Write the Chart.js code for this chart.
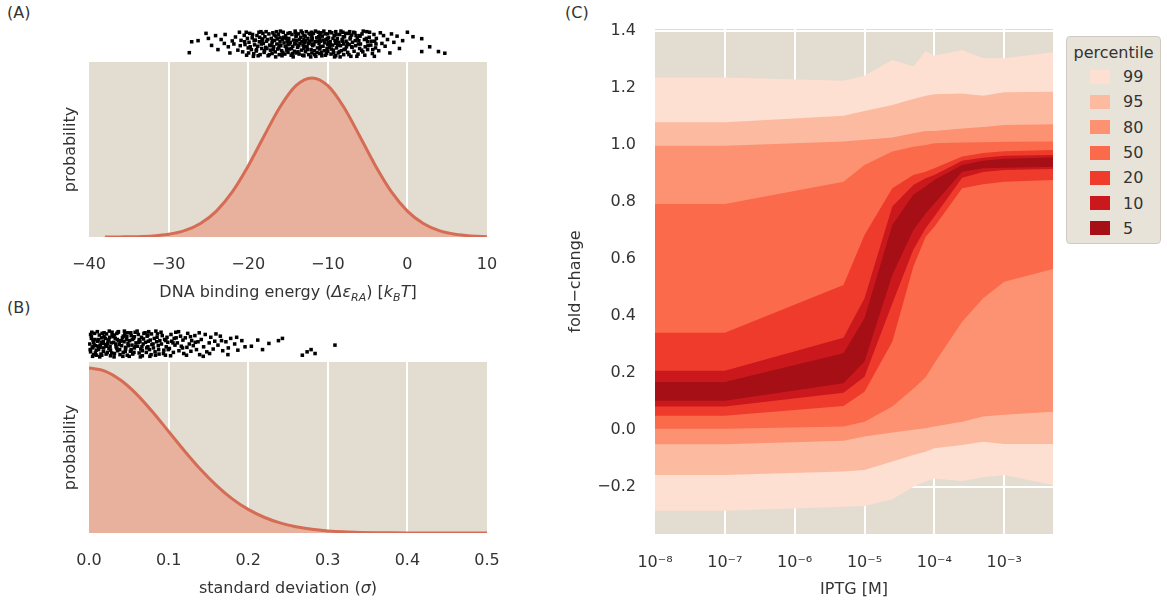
<!DOCTYPE html>
<html>
<head>
<meta charset="utf-8">
<script src="https://cdn.jsdelivr.net/npm/chart.js@4.4.1/dist/chart.umd.min.js"></script>
<style>
  body { margin: 0; width: 1167px; height: 605px; overflow: hidden; background: #fff;
         font-family: 'DejaVu Sans', sans-serif; color: #333; }
  canvas, .panel-label, #legendC { position: absolute; }
  .panel-label { font-size: 16px; line-height: 19px; }
  #legendC { left: 1066px; top: 36px; width: 95px; height: 208px; box-sizing: border-box;
             background: #e8e3d9; border: 1.5px solid #d0cbc2; border-radius: 4px; padding-top: 5px; }
  #legendC .title { font-size: 16px; line-height: 22px; text-align: center; }
  #legendC .item { display: flex; align-items: center; height: 25.3px; font-size: 16px; }
  #legendC .swatch { width: 20px; height: 14px; margin-left: 23px; margin-right: 13px; }
</style>
</head>
<body>
<div class="panel-label" style="left:7px;top:3px">(A)</div>
<div class="panel-label" style="left:7px;top:298px">(B)</div>
<div class="panel-label" style="left:565px;top:3px">(C)</div>

<canvas id="chartA" width="530" height="305" style="left:0;top:0"></canvas>
<canvas id="chartB" width="530" height="300" style="left:0;top:305px"></canvas>
<canvas id="chartC" width="627" height="605" style="left:540px;top:0"></canvas>
<canvas id="stripA" width="530" height="36" style="left:0;top:26px"></canvas>
<canvas id="stripB" width="530" height="36" style="left:0;top:326px"></canvas>
<div id="legendC"></div>

<script>
// Panel A: prior on the DNA binding energy
const energyGrid = [-38, -36, -34, -32, -30, -28, -26, -24, -22, -20, -18, -16, -14,
  -12, -10, -8, -6, -4, -2, 0, 2, 4, 6, 8, 10];
const energyDensity = [0.0002, 0.0007, 0.0022, 0.0065, 0.0169, 0.0397, 0.0847, 0.163, 0.284,
  0.447, 0.635, 0.817, 0.951, 1.0, 0.951, 0.817, 0.635, 0.447, 0.284, 0.163, 0.0847, 0.0397,
  0.0169, 0.0065, 0.0022];
const energyTicks = [-40, -30, -20, -10, 0, 10];

// Panel B: prior on the standard deviation
const sigmaGrid = [0, 0.02, 0.04, 0.06, 0.08, 0.1, 0.12, 0.14, 0.16, 0.18, 0.2, 0.22, 0.24,
  0.26, 0.28, 0.3, 0.32, 0.34, 0.36, 0.38, 0.4, 0.42, 0.44, 0.46, 0.48, 0.5];
const sigmaDensity = [1.0, 0.981, 0.925, 0.84, 0.733, 0.615, 0.497, 0.386, 0.289, 0.207, 0.143,
  0.0954, 0.061, 0.0376, 0.0222, 0.0127, 0.0069, 0.0037, 0.0019, 0.0009, 0.0004, 0.0002,
  0.0001, 0, 0, 0];
const sigmaTicks = [0, 0.1, 0.2, 0.3, 0.4, 0.5];

// samples shown as strips above panels A and B: [value, jitter]
const energySamples = [
  [-27.4, 0.19], [-27.1, 0.58], [-26.3, 0.62], [-25.3, 0.88], [-25.0, 0.7], [-24.6, 0.45], [-24.1, 0.8],
  [-23.8, 0.3], [-23.4, 0.66], [-23.0, 0.52], [-22.9, 0.84], [-22.5, 0.4], [-22.3, 0.18], [-22.0, 0.61],
  [-21.8, 0.5], [-21.6, 0.75], [-21.3, 0.28], [-21.1, 0.92], [-21.0, 0.44],
  [-20.9, 0.63], [-20.7, 0.22], [-20.5, 0.81], [-20.4, 0.48], [-20.2, 0.1], [-20.1, 0.7], [-20.0, 0.36],
  [-19.9, 0.56], [-19.8, 0.88], [-19.6, 0.3], [-19.5, 0.72], [-19.3, 0.15], [-19.2, 0.47], [-19.1, 0.64], [-19.0, 0.25],
  [-18.9, 0.8], [-18.8, 0.42], [-18.6, 0.58], [-18.5, 0.12], [-18.4, 0.94], [-18.3, 0.34], [-18.2, 0.68], [-18.1, 0.52], [-18.0, 0.2],
  [-17.9, 0.76], [-17.8, 0.38], [-17.7, 0.6], [-17.5, 0.08], [-17.4, 0.86], [-17.3, 0.46], [-17.2, 0.28], [-17.1, 0.7], [-17.0, 0.54], [-17.0, 0.16],
  [-16.9, 0.9], [-16.8, 0.4], [-16.7, 0.63], [-16.6, 0.22], [-16.5, 0.78], [-16.4, 0.5], [-16.3, 0.32], [-16.2, 0.85], [-16.1, 0.12], [-16.0, 0.58], [-16.0, 0.72],
  [-15.9, 0.44], [-15.8, 0.26], [-15.7, 0.66], [-15.6, 0.92], [-15.5, 0.54], [-15.4, 0.14], [-15.3, 0.8], [-15.2, 0.36], [-15.1, 0.6], [-15.0, 0.48], [-15.0, 0.2], [-15.0, 0.88],
  [-14.9, 0.7], [-14.8, 0.32], [-14.7, 0.56], [-14.6, 0.1], [-14.5, 0.84], [-14.4, 0.42], [-14.3, 0.64], [-14.2, 0.24], [-14.1, 0.96], [-14.0, 0.5], [-14.0, 0.76], [-14.0, 0.18],
  [-13.9, 0.62], [-13.8, 0.38], [-13.7, 0.86], [-13.6, 0.14], [-13.5, 0.52], [-13.4, 0.74], [-13.3, 0.28], [-13.2, 0.9], [-13.1, 0.46], [-13.0, 0.66], [-13.0, 0.08], [-13.0, 0.34], [-13.0, 0.8],
  [-12.9, 0.56], [-12.8, 0.22], [-12.7, 0.94], [-12.6, 0.4], [-12.5, 0.7], [-12.4, 0.12], [-12.3, 0.6], [-12.2, 0.84], [-12.1, 0.3], [-12.0, 0.5], [-12.0, 0.76], [-12.0, 0.18], [-12.0, 0.64],
  [-11.9, 0.44], [-11.8, 0.88], [-11.7, 0.26], [-11.6, 0.58], [-11.5, 0.06], [-11.4, 0.72], [-11.3, 0.36], [-11.2, 0.92], [-11.1, 0.52], [-11.0, 0.16], [-11.0, 0.68], [-11.0, 0.82], [-11.0, 0.32],
  [-10.9, 0.6], [-10.8, 0.2], [-10.7, 0.78], [-10.6, 0.42], [-10.5, 0.96], [-10.4, 0.54], [-10.3, 0.1], [-10.2, 0.66], [-10.1, 0.34], [-10.0, 0.86], [-10.0, 0.48], [-10.0, 0.24],
  [-9.9, 0.72], [-9.8, 0.38], [-9.7, 0.58], [-9.6, 0.14], [-9.5, 0.9], [-9.4, 0.46], [-9.3, 0.28], [-9.2, 0.8], [-9.1, 0.62], [-9.0, 0.08], [-9.0, 0.52], [-9.0, 0.94],
  [-8.9, 0.36], [-8.8, 0.7], [-8.7, 0.18], [-8.6, 0.56], [-8.5, 0.84], [-8.4, 0.44], [-8.3, 0.26], [-8.2, 0.66], [-8.1, 0.92], [-8.0, 0.5], [-8.0, 0.12],
  [-7.9, 0.76], [-7.8, 0.32], [-7.7, 0.6], [-7.5, 0.2], [-7.4, 0.88], [-7.3, 0.48], [-7.2, 0.68], [-7.1, 0.06], [-7.0, 0.4], [-7.0, 0.82],
  [-6.9, 0.56], [-6.7, 0.24], [-6.6, 0.9], [-6.5, 0.44], [-6.3, 0.72], [-6.2, 0.14], [-6.1, 0.62], [-6.0, 0.34], [-6.0, 0.8],
  [-5.9, 0.5], [-5.7, 0.86], [-5.6, 0.22], [-5.4, 0.66], [-5.3, 0.4], [-5.1, 0.94], [-5.0, 0.58], [-5.0, 0.3],
  [-4.8, 0.74], [-4.6, 0.46], [-4.4, 0.16], [-4.2, 0.84], [-4.1, 0.6], [-4.0, 0.36],
  [-3.9, 0.7], [-3.6, 0.26], [-3.4, 0.9], [-3.2, 0.52], [-3.0, 0.8],
  [-2.8, 0.42], [-2.5, 0.66], [-2.2, 0.18], [-2.0, 0.86], [-1.7, 0.56], [-1.3, 0.78], [-1.0, 0.34],
  [-0.6, 0.62], [0.0, 0.92], [0.7, 0.76], [1.8, 0.69], [1.8, 0.23], [2.8, 0.4], [3.9, 0.23], [4.7, 0.17],
  [-20.45, 0.58], [-20.25, 0.92], [-19.95, 0.18], [-19.75, 0.4], [-19.45, 0.84], [-19.25, 0.62], [-18.95, 0.3],
  [-18.75, 0.08], [-18.55, 0.74], [-18.35, 0.5], [-18.15, 0.88], [-17.95, 0.26], [-17.75, 0.94], [-17.55, 0.66],
  [-17.35, 0.12], [-17.15, 0.44], [-16.95, 0.6], [-16.75, 0.82], [-16.55, 0.04], [-16.35, 0.68], [-16.15, 0.36],
  [-15.95, 0.96], [-15.75, 0.08], [-15.55, 0.74], [-15.35, 0.42], [-15.15, 0.28], [-14.95, 0.6], [-14.75, 0.9],
  [-14.55, 0.34], [-14.35, 0.04], [-14.15, 0.52], [-13.95, 0.8], [-13.75, 0.22], [-13.55, 0.66], [-13.35, 0.96],
  [-13.15, 0.1], [-12.95, 0.42], [-12.75, 0.62], [-12.55, 0.3], [-12.35, 0.88], [-12.15, 0.04], [-11.95, 0.7],
  [-11.75, 0.48], [-11.55, 0.96], [-11.35, 0.2], [-11.15, 0.76], [-10.95, 0.4], [-10.75, 0.08], [-10.55, 0.64],
  [-10.35, 0.86], [-10.15, 0.16], [-9.95, 0.56], [-9.75, 0.94], [-9.55, 0.32], [-9.35, 0.7], [-9.15, 0.04],
  [-8.95, 0.84], [-8.75, 0.46], [-8.55, 0.22], [-8.35, 0.96], [-8.15, 0.6], [-7.95, 0.3], [-7.75, 0.88],
  [-7.55, 0.52], [-7.35, 0.12], [-7.15, 0.74], [-6.95, 0.38], [-6.75, 0.92], [-6.55, 0.62], [-6.35, 0.06],
  [-6.15, 0.5], [-5.95, 0.78], [-5.75, 0.28], [-5.55, 0.96], [-5.35, 0.1], [-5.15, 0.7], [-4.95, 0.44],
  [-4.75, 0.92], [-4.55, 0.6], [-4.35, 0.3], [-4.15, 0.06], [-3.95, 0.5],
  [-16.85, 0.3], [-16.45, 0.94], [-16.05, 0.46], [-15.65, 0.2], [-15.25, 0.7], [-14.85, 0.5], [-14.45, 0.16],
  [-14.05, 0.9], [-13.65, 0.44], [-13.25, 0.58], [-12.85, 0.78], [-12.45, 0.52], [-12.05, 0.92], [-11.65, 0.12],
  [-11.25, 0.6], [-10.85, 0.9], [-10.45, 0.26], [-10.05, 0.7], [-9.65, 0.48], [-9.25, 0.18], [-8.85, 0.62],
  [-8.45, 0.04], [-8.05, 0.76], [-7.65, 0.4], [-7.25, 0.94], [-17.65, 0.34], [-18.25, 0.62], [-18.65, 0.92],
  [-19.35, 0.06], [-6.45, 0.8]
];
const sigmaSamples = [
  [0.001, 0.5], [0.002, 0.22], [0.003, 0.78], [0.004, 0.36], [0.005, 0.64], [0.006, 0.12], [0.007, 0.88],
  [0.008, 0.44], [0.009, 0.28], [0.003, 0.7], [0.006, 0.56], [0.008, 0.18], [0.002, 0.84], [0.005, 0.4],
  [0.011, 0.6], [0.012, 0.3], [0.013, 0.82], [0.014, 0.46], [0.015, 0.14], [0.016, 0.72], [0.017, 0.52],
  [0.018, 0.24], [0.019, 0.9], [0.012, 0.66], [0.014, 0.38], [0.016, 0.1], [0.018, 0.58], [0.019, 0.76],
  [0.021, 0.48], [0.022, 0.86], [0.023, 0.2], [0.024, 0.62], [0.025, 0.34], [0.026, 0.74], [0.027, 0.08],
  [0.028, 0.54], [0.029, 0.92], [0.022, 0.42], [0.025, 0.66], [0.027, 0.28], [0.029, 0.8],
  [0.031, 0.56], [0.032, 0.16], [0.033, 0.7], [0.034, 0.4], [0.035, 0.88], [0.036, 0.26], [0.037, 0.62],
  [0.038, 0.48], [0.039, 0.12], [0.032, 0.82], [0.035, 0.34], [0.037, 0.94], [0.039, 0.6],
  [0.041, 0.44], [0.042, 0.72], [0.043, 0.2], [0.044, 0.58], [0.045, 0.86], [0.046, 0.32], [0.047, 0.66],
  [0.048, 0.1], [0.049, 0.52], [0.043, 0.78], [0.046, 0.38], [0.048, 0.9],
  [0.051, 0.62], [0.052, 0.24], [0.053, 0.8], [0.054, 0.46], [0.055, 0.14], [0.056, 0.7], [0.057, 0.36],
  [0.058, 0.92], [0.059, 0.54], [0.053, 0.3], [0.057, 0.76],
  [0.061, 0.42], [0.062, 0.84], [0.063, 0.18], [0.064, 0.6], [0.065, 0.32], [0.066, 0.74], [0.067, 0.08],
  [0.068, 0.5], [0.069, 0.88], [0.063, 0.66], [0.067, 0.26],
  [0.071, 0.56], [0.072, 0.2], [0.073, 0.78], [0.074, 0.4], [0.075, 0.94], [0.076, 0.3], [0.077, 0.64],
  [0.078, 0.12], [0.079, 0.48], [0.074, 0.82],
  [0.081, 0.36], [0.082, 0.7], [0.083, 0.22], [0.085, 0.58], [0.086, 0.86], [0.087, 0.44], [0.088, 0.14],
  [0.089, 0.62], [0.084, 0.96],
  [0.091, 0.5], [0.092, 0.8], [0.094, 0.28], [0.095, 0.66], [0.096, 0.1], [0.097, 0.4], [0.098, 0.74], [0.099, 0.56],
  [0.101, 0.34], [0.103, 0.84], [0.104, 0.6], [0.106, 0.2], [0.107, 0.7], [0.108, 0.46], [0.109, 0.92],
  [0.111, 0.54], [0.113, 0.26], [0.115, 0.78], [0.116, 0.42], [0.118, 0.64], [0.119, 0.16],
  [0.121, 0.72], [0.123, 0.38], [0.124, 0.88], [0.126, 0.5], [0.128, 0.24], [0.129, 0.62],
  [0.131, 0.44], [0.133, 0.8], [0.135, 0.3], [0.137, 0.58], [0.139, 0.12],
  [0.141, 0.66], [0.144, 0.4], [0.146, 0.84], [0.148, 0.22],
  [0.151, 0.54], [0.153, 0.74], [0.156, 0.32], [0.158, 0.6],
  [0.162, 0.46], [0.165, 0.78], [0.168, 0.26], [0.172, 0.58], [0.175, 0.36], [0.178, 0.7],
  [0.183, 0.5], [0.187, 0.28], [0.192, 0.62], [0.196, 0.4],
  [0.204, 0.42], [0.212, 0.64], [0.218, 0.3], [0.226, 0.52], [0.238, 0.62], [0.243, 0.7],
  [0.268, 0.1], [0.274, 0.22], [0.279, 0.3], [0.284, 0.16], [0.309, 0.46],
  [0.0015, 0.3], [0.0035, 0.92], [0.0045, 0.06], [0.0065, 0.46], [0.0075, 0.66], [0.0095, 0.1], [0.0105, 0.94],
  [0.0115, 0.42], [0.0135, 0.04], [0.0155, 0.56], [0.0165, 0.88], [0.0185, 0.36], [0.0205, 0.7], [0.0215, 0.14],
  [0.0235, 0.52], [0.0255, 0.96], [0.0265, 0.4], [0.0285, 0.18], [0.0305, 0.76], [0.0315, 0.04], [0.0335, 0.5],
  [0.0355, 0.66], [0.0365, 0.92], [0.0385, 0.3], [0.0405, 0.62], [0.0425, 0.06], [0.0445, 0.96], [0.0455, 0.24],
  [0.0475, 0.76], [0.0495, 0.44], [0.0505, 0.06], [0.0525, 0.9], [0.0545, 0.66], [0.0565, 0.2], [0.0585, 0.42],
  [0.0605, 0.96], [0.0625, 0.56], [0.0645, 0.04], [0.0665, 0.4], [0.0685, 0.68], [0.0705, 0.9], [0.0725, 0.36],
  [0.0745, 0.6], [0.0765, 0.06], [0.0785, 0.86], [0.0805, 0.5], [0.0835, 0.1], [0.0855, 0.74], [0.0875, 0.3],
  [0.0905, 0.92], [0.0935, 0.16], [0.0965, 0.62], [0.0995, 0.3], [0.1025, 0.08], [0.1055, 0.54], [0.1095, 0.72],
  [0.1125, 0.94], [0.1175, 0.36], [0.1225, 0.1], [0.1275, 0.76], [0.1335, 0.56], [0.1385, 0.9], [0.1435, 0.06],
  [0.1515, 0.16], [0.1595, 0.86], [0.1665, 0.62], [0.1745, 0.12], [0.1855, 0.74]
];

// Panel C: percentile bands of the predicted fold-change
const iptg = [1e-8, 1e-7, 5e-6, 1e-5, 2.5e-5, 5e-5, 7.5e-5, 1e-4, 2.5e-4, 5e-4, 1e-3, 5e-3];
const iptgTicks = [1e-8, 1e-7, 1e-6, 1e-5, 1e-4, 1e-3];
const foldTicks = [-0.2, 0, 0.2, 0.4, 0.6, 0.8, 1.0, 1.2, 1.4];
const percentiles = [99, 95, 80, 50, 20, 10, 5];
const bandColors = ['#fee0d2', '#fcbba1', '#fc9272', '#fb6a4a', '#ef3b2c', '#cb181d', '#a50f15'];

const p99Hi = [1.237, 1.237, 1.225, 1.243, 1.298, 1.275, 1.33, 1.313, 1.333, 1.304, 1.304, 1.325];
const p99Lo = [-0.283, -0.283, -0.269, -0.267, -0.243, -0.199, -0.181, -0.17, -0.179, -0.166, -0.158, -0.193];
const p95Hi = [1.08, 1.08, 1.103, 1.119, 1.14, 1.161, 1.173, 1.178, 1.181, 1.173, 1.185, 1.187];
const p95Lo = [-0.158, -0.158, -0.146, -0.14, -0.111, -0.088, -0.076, -0.064, -0.053, -0.041, -0.049, -0.049];
const p80Hi = [0.997, 0.997, 1.012, 1.018, 1.026, 1.041, 1.049, 1.049, 1.058, 1.063, 1.07, 1.073];
const p80Lo = [-0.05, -0.05, -0.038, -0.023, -0.009, 0.001, 0.006, 0.012, 0.029, 0.047, 0.053, 0.064];
const p50Hi = [0.793, 0.793, 0.871, 0.93, 0.977, 0.994, 1.0, 1.006, 1.009, 1.01, 1.011, 1.012];
const p50Lo = [0.004, 0.004, 0.012, 0.029, 0.082, 0.145, 0.185, 0.234, 0.38, 0.462, 0.52, 0.565];
const p20Hi = [0.341, 0.341, 0.509, 0.684, 0.848, 0.895, 0.906, 0.918, 0.96, 0.972, 0.978, 0.982];
const p20Lo = [0.05, 0.05, 0.084, 0.134, 0.31, 0.573, 0.678, 0.713, 0.848, 0.862, 0.871, 0.877];
const p10Hi = [0.208, 0.208, 0.324, 0.462, 0.784, 0.86, 0.883, 0.895, 0.945, 0.955, 0.962, 0.965];
const p10Lo = [0.082, 0.082, 0.131, 0.187, 0.444, 0.632, 0.708, 0.749, 0.885, 0.905, 0.912, 0.916];
const p5Hi = [0.168, 0.168, 0.269, 0.392, 0.719, 0.825, 0.854, 0.877, 0.93, 0.945, 0.952, 0.956];
const p5Lo = [0.103, 0.103, 0.164, 0.24, 0.544, 0.702, 0.76, 0.795, 0.906, 0.918, 0.92, 0.924];

const bandHi = [p99Hi, p95Hi, p80Hi, p50Hi, p20Hi, p10Hi, p5Hi];
const bandLo = [p99Lo, p95Lo, p80Lo, p50Lo, p20Lo, p10Lo, p5Lo];

// Shared look
const plotBg = '#e3dcd0';
const curveLine = '#d56c55';
const curveFill = '#e8b19d';
const textColor = '#333';
const fontFamily = "'DejaVu Sans', sans-serif";

Chart.defaults.font.family = fontFamily;
Chart.defaults.font.size = 16;
Chart.defaults.color = textColor;
Chart.defaults.animation = false;

// Fill the plotting area with the background colour
const plotBackground = {
  id: 'plotBackground',
  beforeDraw(chart) {
    const { ctx, chartArea: a } = chart;
    ctx.save();
    ctx.fillStyle = plotBg;
    ctx.fillRect(a.left, a.top, a.right - a.left, a.bottom - a.top);
    ctx.restore();
  }
};

// Axis title with italic and subscript parts
const richTitle = {
  id: 'richTitle',
  afterDraw(chart, args, opts) {
    if (!opts.parts) return;
    const { ctx, chartArea: a } = chart;
    const size = 16;
    const fontFor = p => (p.italic ? 'italic ' : '') + (p.sub ? 11 : size) + 'px ' + fontFamily;
    ctx.save();
    let total = 0;
    const widths = opts.parts.map(p => {
      ctx.font = fontFor(p);
      const w = ctx.measureText(p.text).width;
      total += w;
      return w;
    });
    let x = (a.left + a.right) / 2 - total / 2;
    const y = chart.height - opts.bottom;
    ctx.fillStyle = textColor;
    ctx.textBaseline = 'alphabetic';
    opts.parts.forEach((p, i) => {
      ctx.font = fontFor(p);
      ctx.fillText(p.text, x, y + (p.sub ? 4 : 0));
      x += widths[i];
    });
    ctx.restore();
  }
};

const minus = v => (v < 0 ? '\u2212' : '') + Math.abs(v);
const superscript = n => String(n).split('').map(c => '\u207b\u2070\u00b9\u00b2\u00b3\u2074\u2075\u2076\u2077\u2078\u2079'['-0123456789'.indexOf(c)]).join('');
const toPoints = (xs, ys) => xs.map((x, i) => ({ x: x, y: ys[i] }));
const innerGrid = c => (c.index === 0 || c.index === c.scale.ticks.length - 1) ? 'rgba(0,0,0,0)' : '#fff';

function densityChart(id, xs, ys, ticks, yMax, fmt, pad, axisHeight, titleParts, titleBottom) {
  return new Chart(document.getElementById(id), {
    type: 'line',
    data: {
      datasets: [{
        data: toPoints(xs, ys),
        borderColor: curveLine,
        backgroundColor: curveFill,
        borderWidth: 3,
        fill: 'origin',
        pointRadius: 0,
        cubicInterpolationMode: 'monotone'
      }]
    },
    options: {
      responsive: false,
      layout: { padding: pad },
      plugins: {
        legend: { display: false },
        tooltip: { enabled: false },
        richTitle: { parts: titleParts, bottom: titleBottom }
      },
      scales: {
        x: {
          type: 'linear',
          min: ticks[0],
          max: ticks[ticks.length - 1],
          afterBuildTicks: s => { s.ticks = ticks.map(v => ({ value: v })); },
          afterFit: s => { s.height = axisHeight; },
          ticks: { padding: 18, callback: fmt },
          grid: { color: innerGrid, lineWidth: 2, drawTicks: false },
          border: { display: false }
        },
        y: {
          min: 0,
          max: yMax,
          afterFit: s => { s.width = 28; },
          ticks: { display: false },
          grid: { display: false },
          border: { display: false },
          title: { display: true, text: 'probability', padding: 0 }
        }
      }
    },
    plugins: [plotBackground, richTitle]
  });
}

function stripChart(id, samples, min, max) {
  return new Chart(document.getElementById(id), {
    type: 'scatter',
    data: {
      datasets: [{
        data: samples.map(s => ({ x: s[0], y: s[1] })),
        pointStyle: 'rect',
        pointRadius: 2.5,
        borderWidth: 0,
        backgroundColor: '#000',
        clip: false
      }]
    },
    options: {
      responsive: false,
      layout: { padding: { left: 89, right: 43, top: 4, bottom: 4 } },
      plugins: { legend: { display: false }, tooltip: { enabled: false } },
      scales: {
        x: { display: false, min: min, max: max },
        y: { display: false, min: 0, max: 1 }
      }
    }
  });
}

// Build bands, narrowest first so it is drawn on top
function bandDatasets() {
  const sets = [];
  for (let i = percentiles.length - 1; i >= 0; i--) {
    const loIndex = sets.length;
    sets.push({ label: percentiles[i] + ' lower', data: toPoints(iptg, bandLo[i]),
      borderWidth: 0, pointRadius: 0, fill: false });
    sets.push({ label: String(percentiles[i]), data: toPoints(iptg, bandHi[i]),
      borderWidth: 0, pointRadius: 0, fill: loIndex, backgroundColor: bandColors[i] });
  }
  return sets;
}

function initPanelC() {
  new Chart(document.getElementById('chartC'), {
    type: 'line',
    data: { datasets: bandDatasets() },
    options: {
      responsive: false,
      layout: { padding: { left: 26, right: 114, top: 29, bottom: 0 } },
      plugins: { legend: { display: false }, tooltip: { enabled: false }, filler: { propagate: false } },
      scales: {
        x: {
          type: 'logarithmic',
          min: 1e-8,
          max: 5e-3,
          afterBuildTicks: s => { s.ticks = iptgTicks.map(v => ({ value: v })); },
          afterFit: s => { s.height = 71; },
          ticks: { padding: 19, callback: v => '10' + superscript(Math.round(Math.log10(v))) },
          grid: { color: c => c.index === 0 ? 'rgba(0,0,0,0)' : '#fff', lineWidth: 2, drawTicks: false },
          border: { display: false },
          title: { display: true, text: 'IPTG [M]', padding: { top: 0, bottom: 6 } }
        },
        y: {
          min: -0.365,
          max: 1.407,
          afterBuildTicks: s => { s.ticks = foldTicks.map(v => ({ value: v })); },
          afterFit: s => { s.width = 89; },
          ticks: { padding: 19, callback: v => (v < 0 ? '\u2212' : '') + Math.abs(v).toFixed(1) },
          grid: { color: '#fff', lineWidth: 2, drawTicks: false },
          border: { display: false },
          title: { display: true, text: 'fold\u2212change', padding: 0 }
        }
      }
    },
    plugins: [plotBackground]
  });

  // HTML legend built from the same percentile list and colours
  const legend = document.getElementById('legendC');
  legend.innerHTML = '<div class="title">percentile</div>' + percentiles.map((p, i) =>
    '<div class="item"><span class="swatch" style="background:' + bandColors[i] + '"></span>' + p + '</div>').join('');
}

document.addEventListener('DOMContentLoaded', function() {
  densityChart('chartA', energyGrid, energyDensity, energyTicks, 1.1, minus,
    { left: 61, right: 43, top: 62, bottom: 0 }, 68,
    [{ text: 'DNA binding energy (' }, { text: '\u0394\u03b5', italic: true }, { text: 'RA', italic: true, sub: true },
     { text: ') [' }, { text: 'k', italic: true }, { text: 'B', italic: true, sub: true }, { text: 'T', italic: true }, { text: ']' }], 8);

  densityChart('chartB', sigmaGrid, sigmaDensity, sigmaTicks, 1.036, v => v.toFixed(1),
    { left: 61, right: 43, top: 57, bottom: 0 }, 72,
    [{ text: 'standard deviation (' }, { text: '\u03c3', italic: true }, { text: ')' }], 12);

  stripChart('stripA', energySamples, -40, 10);
  stripChart('stripB', sigmaSamples, 0, 0.5);

  initPanelC();
});
</script>
</body>
</html>
